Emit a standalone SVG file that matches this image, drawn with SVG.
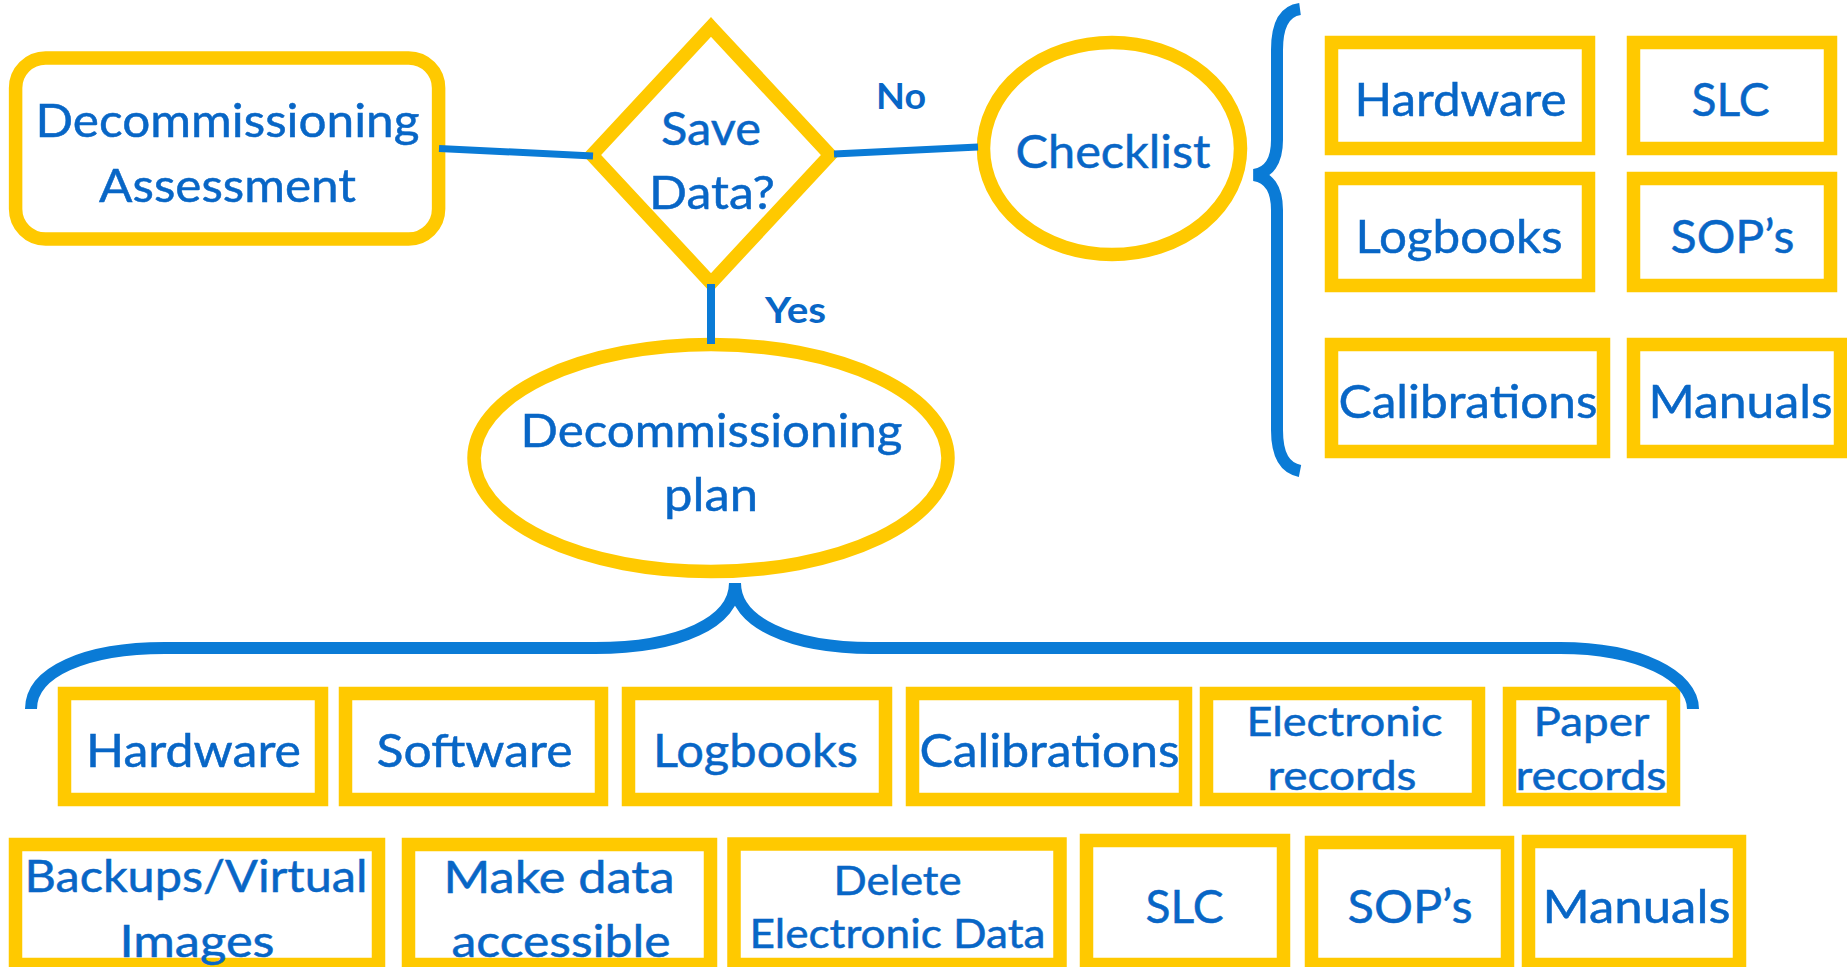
<svg xmlns="http://www.w3.org/2000/svg" width="1847" height="967" viewBox="0 0 1847 967">
<style>
.box{fill:#fff;stroke:#FFC900;stroke-width:13.5}
.t{font-family:Lato,"Liberation Sans",sans-serif;font-size:47px;fill:#0866C6;text-anchor:middle;stroke:#0866C6;stroke-width:0.5}
.s{font-size:40.5px}
.m{font-size:44px}
.lbl{font-family:Lato,"Liberation Sans",sans-serif;font-weight:bold;font-size:36px;fill:#0866C6;text-anchor:middle}
.conn{fill:none;stroke:#0A7BD6;stroke-width:7}
.brace{fill:none;stroke:#0A7BD6;stroke-width:12}
</style>
<rect width="1847" height="967" fill="#fff"/>
<g id="assessment"><rect class="box" x="15.6" y="58" width="423" height="181" rx="30"/><text class="t" x="227.5" y="137" textLength="384" lengthAdjust="spacingAndGlyphs">Decommissioning</text><text class="t" x="227.5" y="202" textLength="257" lengthAdjust="spacingAndGlyphs">Assessment</text></g>
<g id="save-data"><polygon class="box" points="711,27 830,155 711,283 592,155"/><text class="t" x="711" y="145" textLength="100" lengthAdjust="spacingAndGlyphs">Save</text><text class="t" x="712" y="209" textLength="126" lengthAdjust="spacingAndGlyphs">Data?</text></g>
<g id="checklist"><ellipse class="box" cx="1112" cy="148.5" rx="128.5" ry="106"/><text class="t" x="1113" y="168" textLength="195" lengthAdjust="spacingAndGlyphs">Checklist</text></g>
<g id="plan"><ellipse class="box" cx="711" cy="458" rx="237" ry="113.5"/><text class="t" x="711.5" y="447" textLength="382" lengthAdjust="spacingAndGlyphs">Decommissioning</text><text class="t" x="711" y="511" textLength="94" lengthAdjust="spacingAndGlyphs">plan</text></g>
<g id="c-hardware"><rect class="box" x="1331.5" y="42.5" width="257" height="106"/><text class="t" x="1460.5" y="116" textLength="212" lengthAdjust="spacingAndGlyphs">Hardware</text></g>
<g id="c-slc"><rect class="box" x="1633.5" y="42.5" width="197" height="106"/><text class="t" x="1730.5" y="116" textLength="78" lengthAdjust="spacingAndGlyphs">SLC</text></g>
<g id="c-logbooks"><rect class="box" x="1331.5" y="178.5" width="257" height="107"/><text class="t" x="1459" y="252.5" textLength="207" lengthAdjust="spacingAndGlyphs">Logbooks</text></g>
<g id="c-sops"><rect class="box" x="1633.5" y="178.5" width="197" height="107"/><text class="t" x="1732.5" y="252.5" textLength="124" lengthAdjust="spacingAndGlyphs">SOP’s</text></g>
<g id="c-calibrations"><rect class="box" x="1331.5" y="344.5" width="272" height="107"/><text class="t" x="1468" y="418" textLength="259" lengthAdjust="spacingAndGlyphs">Calibrations</text></g>
<g id="c-manuals"><rect class="box" x="1633.5" y="344.5" width="207" height="107"/><text class="t" x="1740.5" y="418" textLength="184" lengthAdjust="spacingAndGlyphs">Manuals</text></g>
<g id="p-hardware"><rect class="box" x="64.5" y="693.5" width="257" height="106"/><text class="t" x="193.5" y="767" textLength="215" lengthAdjust="spacingAndGlyphs">Hardware</text></g>
<g id="p-software"><rect class="box" x="345.5" y="693.5" width="256" height="106"/><text class="t" x="474.5" y="767" textLength="196" lengthAdjust="spacingAndGlyphs">Software</text></g>
<g id="p-logbooks"><rect class="box" x="628.5" y="693.5" width="257" height="106"/><text class="t" x="755.5" y="767" textLength="205" lengthAdjust="spacingAndGlyphs">Logbooks</text></g>
<g id="p-calibrations"><rect class="box" x="912.5" y="693.5" width="273" height="106"/><text class="t" x="1049.5" y="767" textLength="260" lengthAdjust="spacingAndGlyphs">Calibrations</text></g>
<g id="p-electronic"><rect class="box" x="1206.5" y="693.5" width="272" height="106"/><text class="t s" x="1344.5" y="736" textLength="196" lengthAdjust="spacingAndGlyphs">Electronic</text><text class="t s" x="1342" y="790" textLength="149" lengthAdjust="spacingAndGlyphs">records</text></g>
<g id="p-paper"><rect class="box" x="1509.5" y="693.5" width="164" height="106"/><text class="t s" x="1591.5" y="736" textLength="116" lengthAdjust="spacingAndGlyphs">Paper</text><text class="t s" x="1591" y="790" textLength="151" lengthAdjust="spacingAndGlyphs">records</text></g>
<g id="p-backups"><rect class="box" x="15.5" y="844.5" width="363" height="120"/><text class="t m" x="196" y="892" textLength="343" lengthAdjust="spacingAndGlyphs">Backups/Virtual</text><text class="t m" x="197" y="957" textLength="155" lengthAdjust="spacingAndGlyphs">Images</text></g>
<g id="p-accessible"><rect class="box" x="408.5" y="844.5" width="302" height="120"/><text class="t m" x="559" y="893" textLength="231" lengthAdjust="spacingAndGlyphs">Make data</text><text class="t m" x="561" y="957" textLength="219" lengthAdjust="spacingAndGlyphs">accessible</text></g>
<g id="p-delete"><rect class="box" x="734" y="844" width="326" height="120.5"/><text class="t s" x="897.5" y="895" textLength="128" lengthAdjust="spacingAndGlyphs">Delete</text><text class="t s" x="897.5" y="948" textLength="296" lengthAdjust="spacingAndGlyphs">Electronic Data</text></g>
<g id="p-slc"><rect class="box" x="1086.5" y="840.5" width="197" height="124"/><text class="t" x="1184.5" y="923" textLength="78" lengthAdjust="spacingAndGlyphs">SLC</text></g>
<g id="p-sops"><rect class="box" x="1311.5" y="842.5" width="196" height="122"/><text class="t" x="1410" y="923" textLength="125" lengthAdjust="spacingAndGlyphs">SOP’s</text></g>
<g id="p-manuals"><rect class="box" x="1528.5" y="841.5" width="211" height="123"/><text class="t" x="1636.5" y="923" textLength="188" lengthAdjust="spacingAndGlyphs">Manuals</text></g>
<g id="connectors">
<line class="conn" x1="439" y1="148.5" x2="593" y2="156"/>
<line class="conn" x1="834" y1="154" x2="978" y2="147"/>
<line class="conn" x1="711" y1="284" x2="711" y2="344" style="stroke-width:8"/>
<path class="brace" d="M1300 9 C1285 11 1277 24 1277 50 L1277 140 C1277 162 1268 173 1254 175 C1268 177 1277 188 1277 210 L1277 430 C1277 456 1285 468 1300 471"/>
<path class="brace" d="M31 709 C31 672 85 648 165 648 L595 648 C680 648 735 622 735 583 C735 622 790 648 872 648 L1560 648 C1640 648 1693 676 1693 709"/>
<text class="lbl" x="901" y="109" textLength="50" lengthAdjust="spacingAndGlyphs">No</text>
<text class="lbl" x="795.5" y="323" textLength="61" lengthAdjust="spacingAndGlyphs">Yes</text>
</g>
</svg>
